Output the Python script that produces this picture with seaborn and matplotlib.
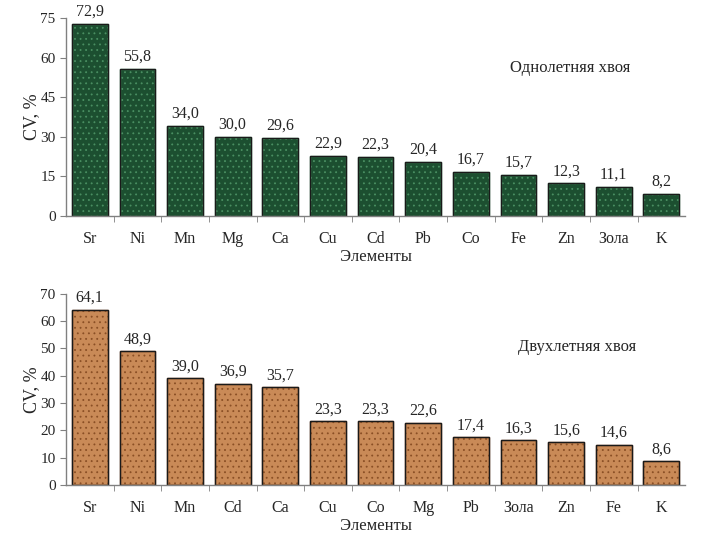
import numpy as np
import pandas as pd
import matplotlib.pyplot as plt
import seaborn as sns
from matplotlib.ticker import FixedLocator

# Однолетняя хвоя
elements_1 = ["Sr", "Ni", "Mn", "Mg", "Ca", "Cu", "Cd", "Pb", "Co", "Fe", "Zn", "Зола", "K"]
cv_1 = [72.9, 55.8, 34.0, 30.0, 29.6, 22.9, 22.3, 20.4, 16.7, 15.7, 12.3, 11.1, 8.2]

# Двухлетняя хвоя
elements_2 = ["Sr", "Ni", "Mn", "Cd", "Ca", "Cu", "Co", "Mg", "Pb", "Зола", "Zn", "Fe", "K"]
cv_2 = [64.1, 48.9, 39.0, 36.9, 35.7, 23.3, 23.3, 22.6, 17.4, 16.3, 15.6, 14.6, 8.6]

sns.set_style("white")
plt.rcParams['font.family'] = ['Liberation Serif', 'DejaVu Serif']
plt.rcParams['font.size'] = 11
plt.rcParams['hatch.linewidth'] = 0.6


def draw_panel(ax, elements, values, color, hatch_color, title, ymax, yticks, title_pos):
    df = pd.DataFrame({"Элемент": elements, "CV": values})
    sns.barplot(data=df, x="Элемент", y="CV", color=color, width=0.75,
                edgecolor="black", linewidth=1.0, saturation=1, ax=ax)
    for bar in ax.patches:
        bar.set_hatch("...")
        bar.set_edgecolor(hatch_color)
        # outline drawn separately so the hatch colour can differ
        ax.add_patch(plt.Rectangle((bar.get_x(), bar.get_y()), bar.get_width(),
                                   bar.get_height(), fill=False,
                                   edgecolor="#1a1a1a", linewidth=1.0))
    for i, v in enumerate(values):
        ax.annotate(f"{v:.1f}".replace(".", ","), (i, v), xytext=(0, 3),
                    textcoords="offset points", ha="center", va="bottom",
                    fontsize=11.5)
    ax.set_xlim(-0.5, len(elements) - 0.5)
    ax.set_ylim(0, ymax)
    ax.set_yticks(yticks)
    ax.xaxis.set_minor_locator(FixedLocator(np.arange(0.5, len(elements) - 0.5, 1)))
    ax.tick_params(axis="x", which="major", length=0, pad=11, labelsize=11.5)
    ax.tick_params(axis="x", which="minor", length=4, color="#808080", bottom=True)
    ax.tick_params(axis="y", length=4, color="#808080", left=True, labelsize=11)
    for side in ["top", "right"]:
        ax.spines[side].set_visible(False)
    for side in ["left", "bottom"]:
        ax.spines[side].set_color("#808080")
        ax.spines[side].set_linewidth(1.0)
    ax.set_xlabel("Элементы", fontsize=12, labelpad=1)
    ax.set_ylabel("CV, %", fontsize=13, labelpad=0)
    ax.text(title_pos[0], title_pos[1], title, transform=ax.transAxes,
            ha="center", va="center", fontsize=12)


fig = plt.figure(figsize=(7.02, 5.48), dpi=100)
ax1 = fig.add_axes([0.094, 0.606, 0.882, 0.361])
ax2 = fig.add_axes([0.094, 0.115, 0.882, 0.349])

draw_panel(ax1, elements_1, cv_1, "#1c4f30", "#4a8f62", "Однолетняя хвоя",
           75, [0, 15, 30, 45, 60, 75], (0.815, 0.75))
draw_panel(ax2, elements_2, cv_2, "#c98a57", "#8a4f25", "Двухлетняя хвоя",
           70, [0, 10, 20, 30, 40, 50, 60, 70], (0.825, 0.72))

fig.savefig("out.png", dpi=100)
